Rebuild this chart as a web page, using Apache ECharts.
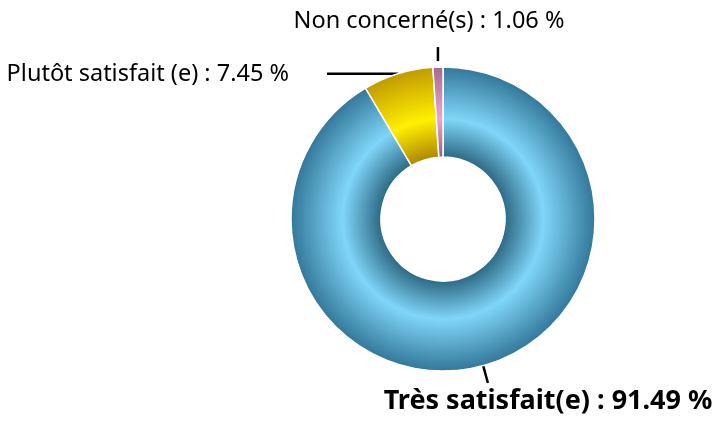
<!DOCTYPE html>
<html>
<head>
<meta charset="utf-8">
<script src="https://cdn.jsdelivr.net/npm/echarts@6/dist/echarts.min.js"></script>
<style>
    html, body { margin: 0; padding: 0; background: #fff; }
    #chart { width: 716px; height: 421px; }
</style>
</head>
<body>
<div id="chart"></div>
<script>
    // donnees
    var categories = ['Très satisfait(e)', 'Plutôt satisfait (e)', 'Non concerné(s)']
    var values = [91.49, 7.45, 1.06]
    var sliceColors = [
        ['#2e6a86', '#80d6f8', '#33789a'],
        ['#b08800', '#fff000', '#c29a00'],
        ['#9c5f85', '#eaa6d4', '#a86a90']
    ]

    var cx = 443, cy = 219, rOut = 152, rIn = 62

    function shade(c) {
        return {
            type: 'radial', x: cx, y: cy, r: rOut, global: true,
            colorStops: [
                { offset: 0, color: c[0] },
                { offset: 0.41, color: c[0] },
                { offset: 0.66, color: c[1] },
                { offset: 1, color: c[2] }
            ]
        }
    }

    var chart = echarts.init(document.getElementById('chart'))

    var data = categories.map(function (name, i) {
        return {
            name: name,
            value: values[i],
            itemStyle: { color: shade(sliceColors[i]) }
        }
    })

    var option = {
        animation: false,
        series: [{
            type: 'pie',
            center: [cx, cy],
            radius: [rIn, rOut],
            startAngle: 90,
            clockwise: true,
            avoidLabelOverlap: false,
            itemStyle: { borderColor: '#fff', borderWidth: 1.5 },
            label: {
                show: true,
                color: '#000',
                fontFamily: '"Noto Sans", sans-serif',
                fontSize: 23.5,
                formatter: function (p) {
                    return p.name + ' : ' + p.value.toFixed(2) + ' %'
                }
            },
            labelLine: {
                show: true,
                length: 18,
                length2: 0,
                lineStyle: { color: '#000', width: 2.5 }
            },
            labelLayout: function (p) {
                var pts = p.labelLinePoints
                if (!pts) return {}
                var a = pts[0]
                if (p.dataIndex === 0) {
                    return {
                        x: 548, y: 401, align: 'center', verticalAlign: 'middle',
                        labelLinePoints: pts
                    }
                }
                if (p.dataIndex === 1) {
                    return {
                        x: 289, y: 74, align: 'right', verticalAlign: 'middle',
                        labelLinePoints: [a, [a[0] - 71, a[1]]]
                    }
                }
                return {
                    x: 429, y: 21, align: 'center', verticalAlign: 'middle',
                    labelLinePoints: [[a[0], a[1] - 6], [a[0], a[1] - 20]]
                }
            },
            data: data
        }]
    }
    option.series[0].data[0].label = { fontSize: 27, fontWeight: 'bold' }

    chart.setOption(option)
</script>
</body>
</html>
